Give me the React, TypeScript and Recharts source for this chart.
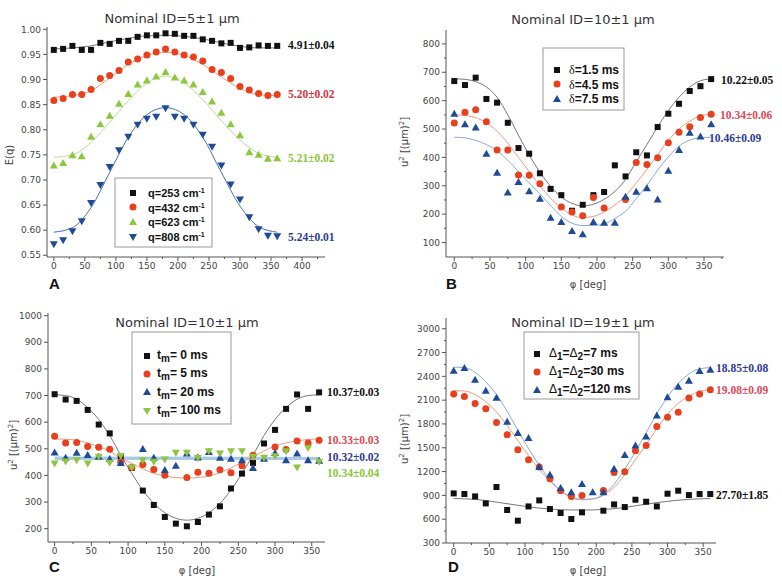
import React from 'react';
import { ComposedChart, Line, Scatter, XAxis, YAxis } from 'recharts';

// angles, every 15 deg
const PHI = [0, 15, 30, 45, 60, 75, 90, 105, 120, 135, 150, 165, 180, 195, 210, 225, 240, 255, 270, 285, 300, 315, 330, 345, 360];
const PHI30 = [0, 30, 60, 90, 120, 150, 180, 210, 240, 270, 300, 330, 360];
const ENDS = [0, 360];

// panel A: E(q)
const A_Q253 = [0.959, 0.961, 0.967, 0.959, 0.959, 0.973, 0.971, 0.977, 0.977, 0.985, 0.988, 0.988, 0.992, 0.991, 0.987, 0.987, 0.98, 0.977, 0.972, 0.973, 0.963, 0.964, 0.968, 0.967, 0.967];
const A_Q432 = [0.858, 0.862, 0.87, 0.87, 0.88, 0.902, 0.908, 0.918, 0.935, 0.941, 0.949, 0.955, 0.961, 0.955, 0.949, 0.945, 0.937, 0.92, 0.914, 0.902, 0.886, 0.879, 0.872, 0.868, 0.87];
const A_Q623 = [0.729, 0.734, 0.749, 0.747, 0.786, 0.811, 0.828, 0.852, 0.871, 0.89, 0.898, 0.906, 0.915, 0.904, 0.898, 0.89, 0.875, 0.856, 0.834, 0.811, 0.789, 0.755, 0.75, 0.742, 0.743];
const A_Q808 = [0.572, 0.58, 0.598, 0.618, 0.654, 0.69, 0.726, 0.759, 0.786, 0.81, 0.822, 0.826, 0.843, 0.826, 0.822, 0.81, 0.79, 0.766, 0.729, 0.691, 0.661, 0.626, 0.602, 0.589, 0.588];
const A_FIT253 = [0.961, 0.963, 0.967, 0.975, 0.982, 0.987, 0.988, 0.986, 0.981, 0.973, 0.966, 0.963, 0.963];
const A_FIT432 = [0.865, 0.868, 0.878, 0.903, 0.93, 0.948, 0.954, 0.948, 0.93, 0.905, 0.882, 0.87, 0.868];
const A_FIT623 = [0.745, 0.75, 0.775, 0.815, 0.858, 0.893, 0.907, 0.893, 0.86, 0.818, 0.78, 0.753, 0.745];
const A_FIT808 = [0.596, 0.605, 0.645, 0.715, 0.785, 0.83, 0.844, 0.83, 0.785, 0.715, 0.648, 0.607, 0.596];

// panel B: delta
const B_D15 = [669, 655, 681, 606, 593, 522, 433, 413, 344, 289, 267, 212, 233, 267, 278, 372, 333, 418, 407, 507, 554, 589, 634, 651, 676];
const B_D45 = [521, 559, 568, 526, 426, 426, 338, 337, 307, null, 225, 208, 194, 259, 222, null, 252, 382, 375, 399, 452, 489, 508, 541, 552];
const B_D75 = [554, 517, 505, 413, 346, 276, 313, 281, 254, 187, 172, 141, 129, 172, 170, 170, 261, 279, 291, 252, 353, 426, 487, 474, 517];
const B_FIT15 = [677, 675, 667, 648, 612, 550, 478, 408, 348, 298, 260, 238, 229, 235, 252, 280, 322, 385, 445, 508, 565, 612, 648, 670, 677];
const B_FIT45 = [550, 548, 540, 522, 492, 450, 400, 350, 300, 256, 222, 197, 188, 192, 208, 232, 265, 310, 358, 410, 460, 500, 528, 546, 552];
const B_FIT75 = [471, 469, 460, 445, 424, 390, 350, 310, 272, 230, 192, 168, 160, 160, 165, 185, 210, 255, 302, 355, 402, 440, 461, 469, 471];

// panel C: mixing time
const C_T0 = [705, 685, 680, 646, 591, 558, 472, 428, 343, 289, 244, 219, 209, 225, 253, 284, 351, 407, 447, 520, 571, 650, 704, 650, 712];
const C_T5 = [547, 522, 524, 509, 506, 498, 451, 430, 441, 422, 401, null, 392, 412, 408, 421, 410, 436, 476, null, 507, 497, 529, 522, 532];
const C_T20 = [486, 466, 485, 477, 470, 462, 447, null, 499, 466, 420, 436, 482, 467, 488, 466, 463, 457, 428, 463, 484, 457, 482, 457, 455];
const C_T100 = [445, 452, 457, 445, 470, 448, 473, 430, 457, 451, 460, 485, 485, 465, 491, 482, 491, 491, 470, 466, 472, 491, 430, 503, 451];
const C_FIT0 = [703, 700, 686, 655, 610, 550, 476, 408, 345, 295, 260, 239, 232, 239, 260, 295, 345, 408, 476, 550, 610, 655, 686, 700, 703];
const C_FIT5 = [537, 536, 532, 522, 508, 490, 466, 445, 425, 408, 398, 392, 390, 392, 398, 410, 428, 450, 470, 492, 510, 522, 530, 535, 537];
const C_FIT20 = [465, 464];
const C_FIT100 = [460, 461];

// panel D: Delta1 = Delta2
const D_7 = [925, 917, 887, 799, 1005, 716, 581, 761, 837, 728, 678, 602, 686, null, 707, 786, 753, 845, 820, 761, 921, 959, 904, 917, 917];
const D_30 = [2177, 2147, 2059, 1992, 1819, 1664, 1475, 1350, 1258, 1110, 959, 887, 900, null, 963, 1189, 1198, 1463, 1530, 1769, 1883, 1946, 2127, 2177, 2231];
const D_120 = [2471, 2505, 2357, 2219, 2131, 1828, 1686, 1623, 1258, 1160, 993, 938, 1043, 938, 938, 1236, 1408, 1530, 1643, 1908, 2135, 2269, 2345, 2467, 2483];
const D_FIT7 = [860, 850, 815, 775, 740, 720, 715, 722, 748, 790, 825, 850, 860];
const D_FIT30 = [2220, 2215, 2170, 2080, 1950, 1780, 1590, 1400, 1230, 1080, 960, 880, 850, 855, 900, 1000, 1160, 1350, 1540, 1740, 1920, 2060, 2150, 2210, 2230];
const D_FIT120 = [2515, 2510, 2450, 2330, 2170, 1960, 1720, 1490, 1280, 1100, 960, 870, 845, 855, 910, 1040, 1230, 1450, 1690, 1930, 2140, 2310, 2430, 2495, 2510];

// ticks (major, minor)
const X_MAJOR_A = [0, 50, 100, 150, 200, 250, 300, 350, 400];
const X_MINOR_A = [25, 75, 125, 175, 225, 275, 325, 375, 425];
const X_MAJOR = [0, 50, 100, 150, 200, 250, 300, 350];
const X_MINOR = [25, 75, 125, 175, 225, 275, 325];
const Y_MAJOR_A = [0.55, 0.6, 0.65, 0.7, 0.75, 0.8, 0.85, 0.9, 0.95, 1.0];
const Y_MAJOR_B = [100, 200, 300, 400, 500, 600, 700, 800];
const Y_MINOR_B = [150, 250, 350, 450, 550, 650, 750];
const Y_MAJOR_C = [200, 300, 400, 500, 600, 700, 800, 900, 1000];
const Y_MAJOR_D = [300, 600, 900, 1200, 1500, 1800, 2100, 2400, 2700, 3000];
const Y_MINOR_D = [450, 750, 1050, 1350, 1650, 1950, 2250, 2550, 2850];

const BLACK = '#111';
const RED = '#e8401c';
const GREEN = '#8dc63f';
const BLUE = '#1f4b96';

const rows = (xs: number[], ys: (number | null)[]) =>
  xs.map((x, i) => ({ x, y: ys[i] })).filter((r) => r.y != null);

type Kind = 'square' | 'circle' | 'up' | 'down';

function Marker({ cx, cy, kind, color }: { cx: number; cy: number; kind: Kind; color: string }) {
  if (cx == null || cy == null || isNaN(cx) || isNaN(cy)) return null;
  if (kind === 'square') return <rect x={cx - 3} y={cy - 3} width={6} height={6} fill={color} />;
  if (kind === 'circle') return <circle cx={cx} cy={cy} r={3.5} fill={color} />;
  if (kind === 'up')
    return <polygon points={`${cx},${cy - 4} ${cx - 4},${cy + 3} ${cx + 4},${cy + 3}`} fill={color} />;
  return <polygon points={`${cx},${cy + 4} ${cx - 4},${cy - 3} ${cx + 4},${cy - 3}`} fill={color} />;
}

type Fit = { data: { x: number; y: number | null }[]; color: string; w?: number };
type Pts = { data: { x: number; y: number | null }[]; kind: Kind; color: string };

const TICK_FONT = { fill: '#444', fontSize: 9, fontFamily: 'DejaVu Sans' };

// tick mark + label drawn together, so minor ticks can be shorter and unlabeled
// (label position from recharts = axis + tickSize(4) + tickMargin(2))
function makeTick(dir: 'x' | 'y', majors: number[], fmt: (v: number) => string) {
  return (p: any) => {
    const v = p.payload.value;
    const major = majors.some((m) => Math.abs(m - v) < 1e-9);
    const len = major ? 4 : 2;
    if (dir === 'x') {
      const ay = p.y - 6;
      return (
        <g>
          <line x1={p.x} x2={p.x} y1={ay} y2={ay + len} stroke="#555" />
          {major && (
            <text x={p.x} y={p.y} dy="0.71em" textAnchor="middle" style={TICK_FONT}>
              {fmt(v)}
            </text>
          )}
        </g>
      );
    }
    const ax = p.x + 6;
    return (
      <g>
        <line x1={ax} x2={ax - len} y1={p.y} y2={p.y} stroke="#555" />
        {major && (
          <text x={p.x} y={p.y} dy="0.355em" textAnchor="end" style={TICK_FONT}>
            {fmt(v)}
          </text>
        )}
      </g>
    );
  };
}

const plain = (v: number) => String(v);

function Panel(props: {
  left: number;
  top: number;
  margin: { top: number; right: number; bottom: number; left: number };
  yWidth: number;
  xDomain: [number, number];
  yDomain: [number, number];
  xMajor: number[];
  xMinor: number[];
  yMajor: number[];
  yMinor: number[];
  yFmt?: (v: number) => string;
  fits: Fit[];
  points: Pts[];
}) {
  const xTicks = [...props.xMajor, ...props.xMinor].sort((a, b) => a - b);
  const yTicks = [...props.yMajor, ...props.yMinor].sort((a, b) => a - b);
  return (
    <div style={{ position: 'absolute', left: props.left, top: props.top }}>
      <ComposedChart width={391} height={289} margin={props.margin}>
        <XAxis
          type="number"
          dataKey="x"
          domain={props.xDomain}
          ticks={xTicks}
          allowDataOverflow
          interval={0}
          height={20}
          tickSize={4}
          tickLine={false}
          stroke="#555"
          tick={makeTick('x', props.xMajor, plain)}
        />
        <YAxis
          type="number"
          dataKey="y"
          domain={props.yDomain}
          ticks={yTicks}
          allowDataOverflow
          interval={0}
          width={props.yWidth}
          tickSize={4}
          tickLine={false}
          stroke="#555"
          tick={makeTick('y', props.yMajor, props.yFmt ?? plain)}
        />
        {props.fits.map((f, i) => (
          <Line
            key={'fit' + i}
            data={f.data}
            dataKey="y"
            type="monotone"
            stroke={f.color}
            strokeWidth={f.w ?? 1}
            dot={false}
            activeDot={false}
            isAnimationActive={false}
          />
        ))}
        {props.points.map((p, i) => (
          <Scatter
            key={'pts' + i}
            data={p.data}
            dataKey="y"
            isAnimationActive={false}
            shape={(s: any) => <Marker cx={s.cx} cy={s.cy} kind={p.kind} color={p.color} />}
          />
        ))}
      </ComposedChart>
    </div>
  );
}

const titleStyle = { fontFamily: 'DejaVu Sans', fontSize: 13, fill: '#333' };
const valStyle = { fontFamily: 'Liberation Serif', fontSize: 11.5, fontWeight: 700 };
const legStyle = { fontFamily: 'Liberation Sans', fontSize: 12, fontWeight: 700, fill: '#111' };
const axStyle = { fontFamily: 'DejaVu Sans', fontSize: 10, fill: '#444' };
const letterStyle = { fontFamily: 'Liberation Sans', fontSize: 15, fontWeight: 700, fill: '#111' };

function ULabel({ x, y }: { x: number; y: number }) {
  return (
    <text x={x} y={y} transform={`rotate(-90 ${x} ${y})`} textAnchor="middle" style={axStyle}>
      u<tspan dy={-4} fontSize={7}>2</tspan>
      <tspan dy={4}> [(μm)</tspan>
      <tspan dy={-4} fontSize={7}>2</tspan>
      <tspan dy={4}>]</tspan>
    </text>
  );
}

export default function App() {
  return (
    <div style={{ position: 'absolute', left: 0, top: 0, width: 782, height: 578, background: '#fff' }}>
      <Panel
        left={0}
        top={0}
        margin={{ top: 27, right: 66, bottom: 12, left: 0 }}
        yWidth={47}
        xDomain={[-11, 437]}
        yDomain={[0.5466, 1.0046]}
        xMajor={X_MAJOR_A}
        xMinor={X_MINOR_A}
        yMajor={Y_MAJOR_A}
        yMinor={[]}
        yFmt={(v) => v.toFixed(2)}
        fits={[
          { data: rows(PHI30, A_FIT253), color: '#777' },
          { data: rows(PHI30, A_FIT432), color: '#ee9a80' },
          { data: rows(PHI30, A_FIT623), color: '#b7dc98' },
          { data: rows(PHI30, A_FIT808), color: '#4a6cb0' },
        ]}
        points={[
          { data: rows(PHI, A_Q253), kind: 'square', color: BLACK },
          { data: rows(PHI, A_Q432), kind: 'circle', color: RED },
          { data: rows(PHI, A_Q623), kind: 'up', color: GREEN },
          { data: rows(PHI, A_Q808), kind: 'down', color: BLUE },
        ]}
      />
      <Panel
        left={391}
        top={0}
        margin={{ top: 30, right: 58, bottom: 12, left: 0 }}
        yWidth={55}
        xDomain={[-11.6, 378]}
        yDomain={[49, 849]}
        xMajor={X_MAJOR}
        xMinor={[...X_MINOR, 375]}
        yMajor={Y_MAJOR_B}
        yMinor={Y_MINOR_B}
        fits={[
          { data: rows(PHI, B_FIT15), color: '#777' },
          { data: rows(PHI, B_FIT45), color: '#ee9a80' },
          { data: rows(PHI, B_FIT75), color: '#8aa8d8' },
        ]}
        points={[
          { data: rows(PHI, B_D15), kind: 'square', color: BLACK },
          { data: rows(PHI, B_D45), kind: 'circle', color: RED },
          { data: rows(PHI, B_D75), kind: 'up', color: BLUE },
        ]}
      />
      <Panel
        left={0}
        top={289}
        margin={{ top: 24, right: 66, bottom: 16, left: 0 }}
        yWidth={48}
        xDomain={[-9, 368]}
        yDomain={[150, 1010]}
        xMajor={X_MAJOR}
        xMinor={X_MINOR}
        yMajor={Y_MAJOR_C}
        yMinor={[]}
        fits={[
          { data: rows(ENDS, C_FIT100), color: '#b7dc98', w: 1 },
          { data: rows(ENDS, C_FIT20), color: '#a6c8ea', w: 3 },
          { data: rows(PHI, C_FIT5), color: '#ee9a80' },
          { data: rows(PHI, C_FIT0), color: '#777' },
        ]}
        points={[
          { data: rows(PHI, C_T0), kind: 'square', color: BLACK },
          { data: rows(PHI, C_T5), kind: 'circle', color: RED },
          { data: rows(PHI, C_T20), kind: 'up', color: BLUE },
          { data: rows(PHI, C_T100), kind: 'down', color: GREEN },
        ]}
      />
      <Panel
        left={391}
        top={289}
        margin={{ top: 29, right: 66, bottom: 15, left: 0 }}
        yWidth={55}
        xDomain={[-10.8, 368]}
        yDomain={[300, 3135]}
        xMajor={X_MAJOR}
        xMinor={X_MINOR}
        yMajor={Y_MAJOR_D}
        yMinor={Y_MINOR_D}
        fits={[
          { data: rows(PHI30, D_FIT7), color: '#777' },
          { data: rows(PHI, D_FIT30), color: '#ee9a80' },
          { data: rows(PHI, D_FIT120), color: '#8aa8d8' },
        ]}
        points={[
          { data: rows(PHI, D_7), kind: 'square', color: BLACK },
          { data: rows(PHI, D_30), kind: 'circle', color: RED },
          { data: rows(PHI, D_120), kind: 'up', color: BLUE },
        ]}
      />

      <svg width={782} height={578} style={{ position: 'absolute', left: 0, top: 0, pointerEvents: 'none' }}>
        {/* titles */}
        <text x={172} y={23} textAnchor="middle" style={titleStyle}>Nominal ID=5±1 μm</text>
        <text x={583} y={24} textAnchor="middle" style={titleStyle}>Nominal ID=10±1 μm</text>
        <text x={187} y={327} textAnchor="middle" style={titleStyle}>Nominal ID=10±1 μm</text>
        <text x={583} y={327} textAnchor="middle" style={titleStyle}>Nominal ID=19±1 μm</text>

        {/* axis labels */}
        <text x={13} y={155} transform="rotate(-90 13 155)" textAnchor="middle" style={axStyle}>E(q)</text>
        <ULabel x={408} y={142} />
        <ULabel x={17} y={445} />
        <ULabel x={408} y={439} />
        <text x={588} y={288} textAnchor="middle" style={axStyle}>φ [deg]</text>
        <text x={197} y={574} textAnchor="middle" style={axStyle}>φ [deg]</text>
        <text x={588} y={574} textAnchor="middle" style={axStyle}>φ [deg]</text>

        {/* panel letters */}
        <text x={49} y={289} style={letterStyle}>A</text>
        <text x={446} y={289} style={letterStyle}>B</text>
        <text x={49} y={572} style={letterStyle}>C</text>
        <text x={448} y={572} style={letterStyle}>D</text>

        {/* fitted values */}
        <text x={288} y={49} style={valStyle} fill="#111">4.91±0.04</text>
        <text x={288} y={98} style={valStyle} fill="#d4343e">5.20±0.02</text>
        <text x={288} y={162} style={valStyle} fill="#8cc43c">5.21±0.02</text>
        <text x={288} y={241} style={valStyle} fill="#2e3a92">5.24±0.01</text>

        <text x={721} y={84} style={valStyle} fill="#111">10.22±0.05</text>
        <text x={720} y={119} style={valStyle} fill="#e04858">10.34±0.06</text>
        <text x={709} y={142} style={valStyle} fill="#2e3a92">10.46±0.09</text>

        <text x={327} y={396} style={valStyle} fill="#111">10.37±0.03</text>
        <text x={327} y={444} style={valStyle} fill="#e04858">10.33±0.03</text>
        <text x={327} y={461} style={valStyle} fill="#2e3a92">10.32±0.02</text>
        <text x={327} y={477} style={valStyle} fill="#8cc43c">10.34±0.04</text>

        <text x={716} y={372} style={valStyle} fill="#2e3a92">18.85±0.08</text>
        <text x={716} y={394} style={valStyle} fill="#e04858">19.08±0.09</text>
        <text x={716} y={499} style={valStyle} fill="#111">27.70±1.85</text>

        {/* legend A */}
        <rect x={115} y={178} width={97} height={69} fill="#fff" stroke="#999" />
        <Marker cx={133} cy={193} kind="square" color={BLACK} />
        <Marker cx={133} cy={207} kind="circle" color={RED} />
        <Marker cx={133} cy={222} kind="up" color={GREEN} />
        <Marker cx={133} cy={237} kind="down" color={BLUE} />
        {['253', '432', '623', '808'].map((q, i) => (
          <text key={q} x={148} y={197 + i * 14.6} style={{ ...legStyle, fontSize: 11 }}>
            q={q} cm<tspan dy={-4} fontSize={7}>-1</tspan>
          </text>
        ))}

        {/* legend B */}
        <rect x={543} y={48} width={81} height={62} fill="#fff" stroke="#999" />
        <Marker cx={557} cy={70} kind="square" color={BLACK} />
        <Marker cx={557} cy={84} kind="circle" color={RED} />
        <Marker cx={557} cy={99} kind="up" color={BLUE} />
        {['1.5', '4.5', '7.5'].map((d, i) => (
          <text key={d} x={569} y={74 + i * 14.5} style={legStyle}>
            <tspan style={{ fontFamily: 'Liberation Serif', fontWeight: 400 }}>δ</tspan>={d} ms
          </text>
        ))}

        {/* legend C */}
        <rect x={132} y={332} width={99} height={92} fill="#fff" stroke="#999" />
        <Marker cx={147} cy={356} kind="square" color={BLACK} />
        <Marker cx={147} cy={374} kind="circle" color={RED} />
        <Marker cx={147} cy={392} kind="up" color={BLUE} />
        <Marker cx={147} cy={411} kind="down" color={GREEN} />
        {['0', '5', '20', '100'].map((t, i) => (
          <text key={t} x={157} y={359 + i * 18.3} style={legStyle}>
            t<tspan dy={3} fontSize={10}>m</tspan>
            <tspan dy={-3}>= {t} ms</tspan>
          </text>
        ))}

        {/* legend D */}
        <rect x={524} y={332} width={115} height={67} fill="#fff" stroke="#999" />
        <Marker cx={537} cy={354} kind="square" color={BLACK} />
        <Marker cx={537} cy={372} kind="circle" color={RED} />
        <Marker cx={537} cy={390} kind="up" color={BLUE} />
        {['7', '30', '120'].map((d, i) => (
          <text key={d} x={549} y={357 + i * 18} style={legStyle}>
            <tspan fontWeight={400}>Δ</tspan>
            <tspan dy={3} fontSize={10}>1</tspan>
            <tspan dy={-3}>=</tspan>
            <tspan fontWeight={400}>Δ</tspan>
            <tspan dy={3} fontSize={10}>2</tspan>
            <tspan dy={-3}>={d} ms</tspan>
          </text>
        ))}
      </svg>
    </div>
  );
}
